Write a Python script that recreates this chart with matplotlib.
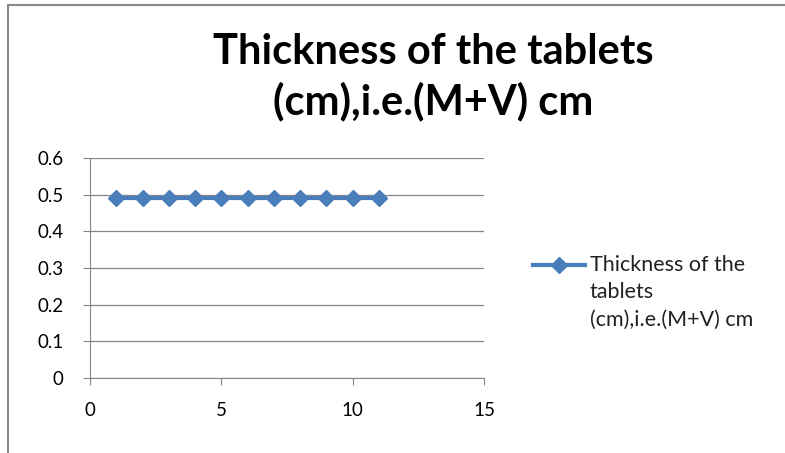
import matplotlib.pyplot as plt
import numpy as np

# Data
tabletNum = [1, 2, 3, 4, 5, 6, 7, 8, 9, 10, 11]
thickness = [0.49, 0.49, 0.49, 0.49, 0.49, 0.49, 0.49, 0.49, 0.49, 0.49, 0.49]
seriesName = "Thickness of the\ntablets\n(cm),i.e.(M+V) cm"
chartTitle = "Thickness of the tablets\n(cm),i.e.(M+V) cm"
xTicks = [0, 5, 10, 15]
yTicks = [0, 0.1, 0.2, 0.3, 0.4, 0.5, 0.6]

plt.rcParams['font.family'] = ['Lato', 'DejaVu Sans']

fig = plt.figure(figsize=(7.85, 4.53), dpi=100)
ax = fig.add_axes([90 / 785, 1 - 378 / 453, 394 / 785, 220 / 453])

ax.plot(tabletNum, thickness, color='#4a7ebb', lw=3, marker='D', ms=8,
        markeredgecolor='#4a7ebb', label=seriesName)

ax.set_xlim(0, 15)
ax.set_ylim(0, 0.6)
ax.set_xticks(xTicks)
ax.set_yticks(yTicks)
ax.set_yticklabels([f"{v:g}" for v in yTicks])
ax.yaxis.grid(True, color='#868686', lw=0.9)
ax.set_axisbelow(True)
for s in ['top', 'right']:
    ax.spines[s].set_visible(False)
for s in ['left', 'bottom']:
    ax.spines[s].set_color('#868686')
ax.tick_params(axis='both', colors='#868686', labelcolor='black', labelsize=13.5, length=5)
ax.tick_params(axis='x', pad=12)
ax.tick_params(axis='y', pad=14)

fig.text(0.552, 1 - 77 / 453, chartTitle, ha='center', va='center', fontsize=30,
         fontweight='bold', linespacing=1.3)

# legend drawn manually to match the Excel layout
legX = [533 / 785, 559 / 785, 585 / 785]
fig.add_artist(plt.Line2D(legX, [1 - 265 / 453] * 3, color='#4a7ebb',
                          lw=3, marker='D', ms=8, markevery=[1]))
fig.text(590 / 785, 1 - 255 / 453, seriesName, ha='left', va='top', fontsize=15.5,
         color='#222222', linespacing=1.45)

# border around the chart
fig.add_artist(plt.Line2D([8 / 785, 8 / 785, 1], [0, 1 - 5 / 453, 1 - 5 / 453],
                          color='#888888', lw=1.5))

fig.savefig("out.png", dpi=100)
